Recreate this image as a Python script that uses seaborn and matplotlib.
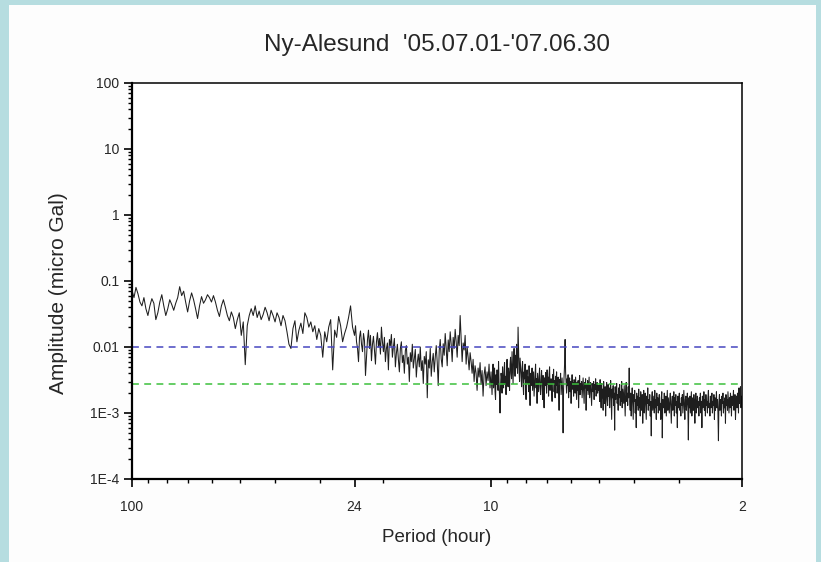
import numpy as np
import pandas as pd
import matplotlib
matplotlib.use("Agg")
import matplotlib.pyplot as plt
import seaborn as sns
from matplotlib.ticker import FixedLocator, NullFormatter
from matplotlib.patches import Rectangle

# ---------------- data (amplitudes in units of 1e-4 micro Gal) ----------------
AMP_UNIT = 1e-4

# segment A: period 100 h -> 24 h
seg_a_periods = (100.0, 24.0)
seg_a_amp = [
    720, 560, 800, 640, 480, 420, 560, 380, 300, 420,
    540, 460, 260, 330, 480, 620, 420, 300, 380, 520,
    440, 360, 460, 560, 820, 600, 700, 480, 340, 500,
    660, 520, 380, 270, 420, 580, 460, 520, 620, 560,
    480, 600, 480, 360, 290, 420, 520, 400, 300, 250,
    340, 280, 190, 260, 330, 150, 240, 54, 210, 300,
    380, 300, 420, 280, 350, 260, 310, 400, 330, 250,
    360, 300, 240, 330, 280, 210, 300, 250, 170, 110,
    95, 190, 250, 120, 180, 230, 160, 330, 280, 200,
    240, 170, 210, 130, 190, 150, 70, 170, 120, 200,
    260, 45, 180, 140, 290, 210, 120, 160, 200, 280,
    420, 200,
]

# segment B: period 24 h -> 10 h
seg_b_periods = (24.0, 10.0)
seg_b_amp = [
    150, 210, 120, 95, 60, 140, 175, 110, 85, 160,
    125, 37, 70, 130, 180, 95, 150, 62, 110, 145,
    90, 55, 120, 165, 100, 135, 78, 200, 120, 85,
    140, 60, 95, 115, 45, 130, 105, 155, 70, 100,
    135, 50, 80, 110, 65, 42, 95, 120, 58, 75,
    40, 88, 105, 55, 70, 30, 82, 60, 110, 48,
    66, 92, 35, 58, 78, 50, 100, 44, 62, 28,
    72, 55, 85, 17, 64, 48, 95, 36, 60, 80,
    42, 70, 105, 58, 26, 88, 130, 66, 50, 112,
    75, 160, 95, 52, 128, 85, 170, 110, 60, 140,
    95, 185, 120, 70, 150, 105, 300, 135, 60, 115,
    90, 150, 55, 100, 70, 45, 82, 60, 40, 65,
    30, 52, 40, 22, 48, 35, 58, 27, 44, 18,
    38, 50, 26, 42, 31, 55, 24,
]

# segment C: period 10 h -> 5 h
seg_c_periods = (10.0, 5.0)
seg_c_amp = [
    42, 28, 19, 35, 55, 24, 30, 48, 21, 16, 38, 27,
    45, 33, 22, 60, 29, 18, 10, 26, 40, 35, 20, 50,
    31, 24, 44, 58, 27, 36, 19, 42, 65, 30, 25, 48,
    38, 22, 55, 70, 40, 33, 85, 46, 28, 60, 95, 52,
    36, 75, 48, 110, 62, 40, 200, 88, 45, 30, 68, 52,
    38, 25, 47, 60, 28, 19, 42, 33, 55, 24, 16, 37,
    45, 28, 35, 21, 52, 30, 13, 40, 26, 34, 48, 22,
    30, 42, 18, 27, 38, 55, 24, 33, 14, 40, 29, 21,
    36, 48, 25, 19, 31, 44, 28, 16, 37, 23, 12, 34,
    26, 41, 30, 20, 45, 27, 35, 18, 39, 50, 22, 29,
    33, 24, 15, 38, 28, 46, 21, 31, 17, 36, 26, 42,
    20, 29, 35, 23, 11, 32, 27, 40, 19, 25, 34, 22,
    5, 24, 36, 55, 130, 42, 28, 20, 33, 26, 38, 17,
    27, 34, 21, 30, 14, 25, 38, 23, 29, 18, 32, 26,
    20, 35, 24, 16, 29, 22, 31, 12, 26, 37, 19, 28,
    23, 30, 17, 25, 34, 21, 14, 29, 24, 33, 11, 27,
    22, 31, 19, 26, 35, 17, 24, 29, 20, 13, 28, 25,
    21, 30, 16, 27, 23, 33, 18, 25, 29, 20, 26, 22,
]

# segment D: period 5 h -> 2 h
seg_d_periods = (5.0, 2.0)
seg_d_amp = [
    26, 15, 32, 18, 12, 28, 17, 23, 11, 30, 19, 14, 25, 9, 21, 29, 16, 13, 27, 18,
    24, 12, 21, 31, 15, 8, 23, 17, 26, 13, 20, 5.5, 25, 16, 22, 28, 14, 19, 11, 24,
    17, 27, 13, 21, 15, 30, 12, 23, 18, 14, 26, 16, 9, 22, 29, 15, 20, 13, 25, 17,
    48, 15, 11, 20, 9, 17, 24, 13, 8, 19, 15, 22, 10, 16, 6, 20, 13, 18, 11, 23,
    12, 17, 9, 21, 14, 11, 19, 7, 16, 22, 10, 15, 20, 12, 8, 18, 14, 24, 11, 16,
    13, 19, 9, 15, 4.5, 17, 21, 11, 14, 18, 10, 22, 12, 16, 8, 20, 13, 17, 10, 15,
    19, 11, 14, 8, 17, 21, 4.2, 16, 12, 13, 20, 10, 15, 18, 9, 14, 22, 11, 17, 13,
    10, 16, 20, 12, 7, 15, 18, 11, 14, 21, 9, 17, 13, 19, 10, 15, 6, 18, 12, 16,
    20, 11, 14, 9, 17, 13, 19, 10, 15, 22, 12, 8, 16, 18, 11, 14, 20, 13, 3.9, 17,
    12, 18, 10, 15, 21, 9, 14, 17, 11, 19, 13, 7, 16, 20, 10, 14, 18, 12, 15, 9,
    17, 13, 20, 10, 15, 6, 18, 12, 14, 21, 11, 16, 9, 19, 13, 15, 10, 17, 22, 12,
    14, 9, 18, 12, 16, 20, 10, 15, 13, 19, 8, 17, 11, 14, 21, 12, 16, 10, 3.8, 15,
    19, 11, 16, 13, 9, 18, 14, 20, 10, 15, 12, 17, 7, 19, 13, 16, 11, 21, 14, 10,
    17, 12, 20, 15, 9, 18, 13, 16, 22, 11, 15, 19, 8, 14, 18, 12, 20, 16, 10, 24,
    14, 21, 25, 12, 18, 16,
]

level_blue = 0.01
level_green = 0.00275

x_major = [100, 24, 10, 2]
x_major_labels = ["100", "24", "10", "2"]
x_minor = [90, 80, 70, 60, 50, 40, 30, 20, 9, 8, 7, 6, 5, 4, 3]
y_major = [1e-4, 1e-3, 1e-2, 1e-1, 1, 10, 100]
y_major_labels = ["1E-4", "1E-3", "0.01", "0.1", "1", "10", "100"]

title = "Ny-Alesund  '05.07.01-'07.06.30"
xlabel = "Period (hour)"
ylabel = "Amplitude (micro Gal)"

# ---------------- build table ----------------
segments = [
    (seg_a_periods, seg_a_amp, False),
    (seg_b_periods, seg_b_amp, False),
    (seg_c_periods, seg_c_amp, False),
    (seg_d_periods, seg_d_amp, True),
]
periods, amps = [], []
for (p0, p1), vals, endpoint in segments:
    periods.append(np.geomspace(p0, p1, len(vals), endpoint=endpoint))
    amps.append(np.asarray(vals, dtype=float) * AMP_UNIT)
df = pd.DataFrame({"period": np.concatenate(periods),
                   "amp": np.concatenate(amps)})

# ---------------- figure ----------------
sns.set_style("white")
plt.rcParams["font.family"] = ["Liberation Sans", "DejaVu Sans"]

W, H = 821, 562
fig = plt.figure(figsize=(W / 100, H / 100), dpi=100)
fig.patch.set_facecolor("#b6dde0")
fig.add_artist(Rectangle((9 / W, 0), (816 - 9) / W, (562 - 5) / H,
                         transform=fig.transFigure, facecolor="#fdfdfd",
                         edgecolor="none", zorder=-5))

ax = fig.add_axes([132 / W, 1 - 479 / H, (742 - 132) / W, (479 - 83) / H])
ax.set_facecolor("white")

sns.lineplot(data=df, x="period", y="amp", sort=False, estimator=None,
             color="#1e1e1e", linewidth=0.75, ax=ax)

ax.axhline(level_blue, color="#4646c0", linewidth=1.1, dashes=(4.5, 3.5))
ax.axhline(level_green, color="#3cc03c", linewidth=1.1, dashes=(4.5, 3.5))

ax.set_xscale("log")
ax.set_yscale("log")
ax.set_xlim(100, 2)
ax.set_ylim(1e-4, 100)

ax.xaxis.set_major_locator(FixedLocator(x_major))
ax.set_xticklabels(x_major_labels)
ax.xaxis.set_minor_locator(FixedLocator(x_minor))
ax.xaxis.set_minor_formatter(NullFormatter())

ax.yaxis.set_major_locator(FixedLocator(y_major))
ax.set_yticklabels(y_major_labels)
y_minor = [m * 10.0 ** e for e in range(-4, 2) for m in range(2, 10)]
ax.yaxis.set_minor_locator(FixedLocator(y_minor))
ax.yaxis.set_minor_formatter(NullFormatter())

ax.tick_params(which="major", direction="out", length=6, width=1.2,
               labelsize=10, color="black", pad=3,
               bottom=True, left=True, top=False, right=False)
ax.tick_params(axis="x", which="major", pad=9)
ax.tick_params(which="minor", direction="out", length=3, width=1.0,
               color="black", bottom=True, left=True, top=False, right=False)

for s in ax.spines.values():
    s.set_visible(True)
    s.set_color("black")
    s.set_linewidth(1.1)
ax.spines["left"].set_linewidth(1.6)
ax.spines["bottom"].set_linewidth(1.6)

ax.set_xlabel(xlabel, fontsize=13.5)
ax.set_ylabel(ylabel, fontsize=15)
ax.xaxis.set_label_coords(0.5, -0.125)
ax.yaxis.set_label_coords(-0.105, 0.47)
fig.text(0.5 * (132 + 742) / W, 1 - 45 / H, title, fontsize=17.5,
         ha="center", va="center")

fig.savefig("out.png", dpi=100, facecolor=fig.get_facecolor())
